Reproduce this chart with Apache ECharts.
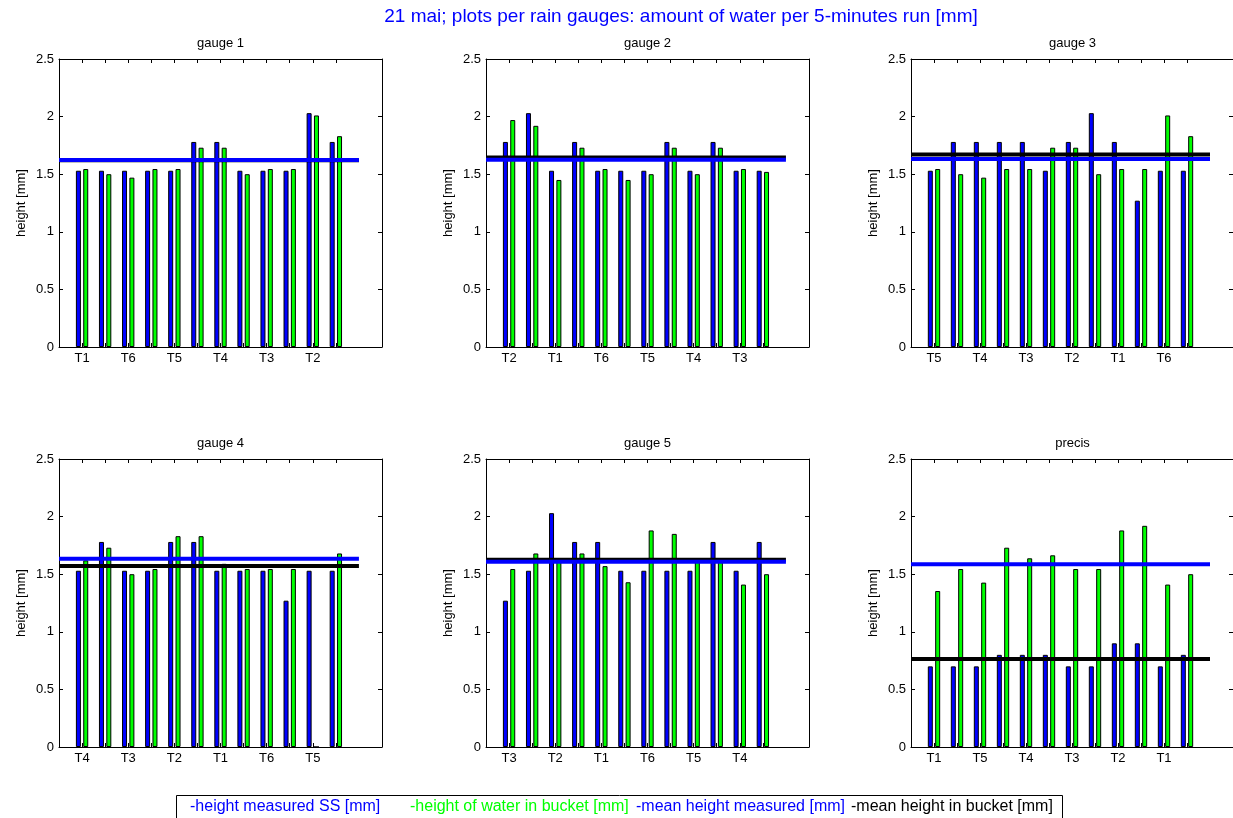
<!DOCTYPE html>
<html>
<head>
<meta charset="utf-8">
<script src="https://cdn.jsdelivr.net/npm/echarts@6/dist/echarts.min.js"></script>
<style>
  html, body { margin: 0; padding: 0; background: #fff; }
  #chart { width: 1233px; height: 818px; }
</style>
</head>
<body>
<div id="chart"></div>
<script>
// Per-gauge tick labels, 5-minute run heights and mean levels [mm]
const gauge1Ticks = ['T1', 'T6', 'T5', 'T4', 'T3', 'T2'];
const gauge1Measured = [1.53, 1.53, 1.53, 1.53, 1.53, 1.78, 1.78, 1.53, 1.53, 1.53, 2.03, 1.78];
const gauge1Bucket = [1.545, 1.50, 1.47, 1.545, 1.545, 1.73, 1.73, 1.50, 1.545, 1.545, 2.01, 1.83];
const gauge1MeanMeasured = 1.623;
const gauge1MeanBucket = 1.622;

const gauge2Ticks = ['T2', 'T1', 'T6', 'T5', 'T4', 'T3'];
const gauge2Measured = [1.78, 2.03, 1.53, 1.78, 1.53, 1.53, 1.53, 1.78, 1.53, 1.78, 1.53, 1.53];
const gauge2Bucket = [1.97, 1.92, 1.45, 1.73, 1.545, 1.45, 1.50, 1.73, 1.50, 1.73, 1.545, 1.52];
const gauge2MeanMeasured = 1.626;
const gauge2MeanBucket = 1.646;

const gauge3Ticks = ['T5', 'T4', 'T3', 'T2', 'T1', 'T6'];
const gauge3Measured = [1.53, 1.78, 1.78, 1.78, 1.78, 1.53, 1.78, 2.03, 1.78, 1.27, 1.53, 1.53];
const gauge3Bucket = [1.545, 1.50, 1.47, 1.545, 1.545, 1.73, 1.73, 1.50, 1.545, 1.545, 2.01, 1.83];
const gauge3MeanMeasured = 1.632;
const gauge3MeanBucket = 1.67;

const gauge4Ticks = ['T4', 'T3', 'T2', 'T1', 'T6', 'T5'];
const gauge4Measured = [1.53, 1.78, 1.53, 1.53, 1.78, 1.78, 1.53, 1.53, 1.53, 1.27, 1.53, 1.53];
const gauge4Bucket = [1.62, 1.73, 1.50, 1.545, 1.83, 1.83, 1.59, 1.545, 1.545, 1.545, 0, 1.68];
const gauge4MeanMeasured = 1.635;
const gauge4MeanBucket = 1.571;

const gauge5Ticks = ['T3', 'T2', 'T1', 'T6', 'T5', 'T4'];
const gauge5Measured = [1.27, 1.53, 2.03, 1.78, 1.78, 1.53, 1.53, 1.53, 1.53, 1.78, 1.53, 1.78];
const gauge5Bucket = [1.545, 1.68, 1.62, 1.68, 1.57, 1.43, 1.88, 1.85, 1.64, 1.62, 1.41, 1.50];
const gauge5MeanMeasured = 1.609;
const gauge5MeanBucket = 1.626;

const precisTicks = ['T1', 'T5', 'T4', 'T3', 'T2', 'T1'];
const precisMeasured = [0.7, 0.7, 0.7, 0.8, 0.8, 0.8, 0.7, 0.7, 0.9, 0.9, 0.7, 0.8];
const precisBucket = [1.354, 1.545, 1.427, 1.73, 1.638, 1.664, 1.545, 1.545, 1.88, 1.92, 1.41, 1.50];
const precisMeanMeasured = 1.586;
const precisMeanBucket = 0.764;

const panelTitles = ['gauge 1', 'gauge 2', 'gauge 3', 'gauge 4', 'gauge 5', 'precis'];
const legendTexts = ['-height measured SS [mm]', '-height of water in bucket [mm]', '-mean height measured [mm]', '-mean height in bucket [mm]'];

const panels = [
  { ticks: gauge1Ticks, measured: gauge1Measured, bucket: gauge1Bucket, meanM: gauge1MeanMeasured, meanB: gauge1MeanBucket },
  { ticks: gauge2Ticks, measured: gauge2Measured, bucket: gauge2Bucket, meanM: gauge2MeanMeasured, meanB: gauge2MeanBucket },
  { ticks: gauge3Ticks, measured: gauge3Measured, bucket: gauge3Bucket, meanM: gauge3MeanMeasured, meanB: gauge3MeanBucket },
  { ticks: gauge4Ticks, measured: gauge4Measured, bucket: gauge4Bucket, meanM: gauge4MeanMeasured, meanB: gauge4MeanBucket },
  { ticks: gauge5Ticks, measured: gauge5Measured, bucket: gauge5Bucket, meanM: gauge5MeanMeasured, meanB: gauge5MeanBucket },
  { ticks: precisTicks, measured: precisMeasured, bucket: precisBucket, meanM: precisMeanMeasured, meanB: precisMeanBucket }
];

const FONT = '"Liberation Sans", Arial, Helvetica, sans-serif';
const BLUE = '#0000ff';
const GREEN = '#00ff00';
const COL_LEFT = [59, 486, 911];
const ROW_TOP = [59, 459];
const PW = 323, PH = 288;
const TICK_POS = [1, 2, 3, 4, 5, 6, 7, 8, 9, 10, 11, 12];
const LABEL_POS = [1, 3, 5, 7, 9, 11];

const grids = [], xAxes = [], yAxes = [], series = [], titles = [];

titles.push({
  text: '21 mai; plots per rain gauges: amount of water per 5-minutes run [mm]',
  left: 681, top: 7, textAlign: 'center', padding: 0,
  textStyle: { color: BLUE, fontSize: 19, fontWeight: 'normal', fontFamily: FONT }
});

panels.forEach((p, i) => {
  const left = COL_LEFT[i % 3];
  const top = ROW_TOP[Math.floor(i / 3)];
  grids.push({ left: left, top: top, width: PW, height: PH, containLabel: false });

  titles.push({
    text: panelTitles[i], left: left + PW / 2, top: top - 22, textAlign: 'center', padding: 0,
    textStyle: { color: '#000', fontSize: 13, fontWeight: 'normal', fontFamily: FONT }
  });

  const axisLine = { show: true, onZero: false, lineStyle: { color: '#000', width: 1 } };
  const tick = { show: true, inside: true, length: 4, lineStyle: { color: '#000', width: 1 } };

  xAxes.push({
    gridIndex: i, type: 'value', min: 0, max: 14, position: 'bottom',
    axisLine: axisLine,
    axisTick: Object.assign({ customValues: TICK_POS }, tick),
    axisLabel: {
      customValues: LABEL_POS, color: '#000', fontSize: 13, fontFamily: FONT, margin: 5,
      formatter: v => p.ticks[(v - 1) / 2] || ''
    },
    splitLine: { show: false }
  });
  xAxes.push({
    gridIndex: i, type: 'value', min: 0, max: 14, position: 'top',
    axisLine: axisLine,
    axisTick: Object.assign({ customValues: TICK_POS }, tick),
    axisLabel: { show: false },
    splitLine: { show: false }
  });
  yAxes.push({
    gridIndex: i, type: 'value', min: 0, max: 2.5, interval: 0.5, position: 'left',
    name: 'height [mm]', nameLocation: 'middle', nameGap: 31,
    nameTextStyle: { color: '#000', fontSize: 13, fontFamily: FONT },
    axisLine: axisLine, axisTick: tick,
    axisLabel: { color: '#000', fontSize: 13, fontFamily: FONT, margin: 5 },
    splitLine: { show: false }
  });
  yAxes.push({
    gridIndex: i, type: 'value', min: 0, max: 2.5, interval: 0.5, position: 'right',
    axisLine: axisLine, axisTick: tick,
    axisLabel: { show: false },
    splitLine: { show: false }
  });

  const xi = 2 * i, yi = 2 * i;
  series.push({
    type: 'bar', name: legendTexts[0], xAxisIndex: xi, yAxisIndex: yi,
    data: p.measured.map((v, k) => [k + 1, v]),
    barWidth: 5, barGap: '47%',
    itemStyle: { color: BLUE, borderColor: '#000', borderWidth: 1 },
    silent: true, animation: false
  });
  series.push({
    type: 'bar', name: legendTexts[1], xAxisIndex: xi, yAxisIndex: yi,
    data: p.bucket.map((v, k) => [k + 1, v]),
    barWidth: 5, barGap: '47%',
    itemStyle: { color: GREEN, borderColor: '#000', borderWidth: 1 },
    silent: true, animation: false
  });
  series.push({
    type: 'line', name: legendTexts[3], xAxisIndex: xi, yAxisIndex: yi,
    data: [[0, p.meanB], [13, p.meanB]], showSymbol: false, symbol: 'none',
    lineStyle: { color: '#000', width: 4 }, silent: true, animation: false
  });
  series.push({
    type: 'line', name: legendTexts[2], xAxisIndex: xi, yAxisIndex: yi,
    data: [[0, p.meanM], [13, p.meanM]], showSymbol: false, symbol: 'none',
    lineStyle: { color: BLUE, width: 4 }, silent: true, animation: false
  });
});

// Legend box along the bottom edge
const legendX = [190, 410, 636, 851];
const legendColors = [BLUE, GREEN, BLUE, '#000'];
const graphic = [{
  type: 'rect', shape: { x: 176.5, y: 795.5, width: 886, height: 40 },
  style: { fill: '#fff', stroke: '#000', lineWidth: 1 }, silent: true
}];
legendTexts.forEach((t, k) => {
  graphic.push({
    type: 'text', x: legendX[k], y: 807,
    style: { text: t, fill: legendColors[k], fontSize: 16, fontFamily: FONT, verticalAlign: 'middle', align: 'left' },
    silent: true
  });
});

const chart = echarts.init(document.getElementById('chart'), null, { renderer: 'canvas' });
chart.setOption({
  backgroundColor: '#fff',
  animation: false,
  title: titles,
  grid: grids,
  xAxis: xAxes,
  yAxis: yAxes,
  series: series,
  graphic: graphic
});
</script>
</body>
</html>
